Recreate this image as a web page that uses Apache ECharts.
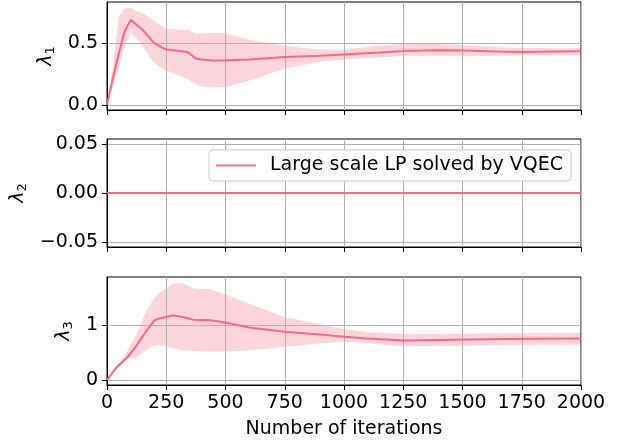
<!DOCTYPE html>
<html>
<head>
<meta charset="utf-8">
<script src="https://cdn.jsdelivr.net/npm/echarts@6/dist/echarts.min.js"></script>
<style>
  html, body { margin: 0; padding: 0; background: #fff; }
  #chart { width: 626px; height: 443px; }
</style>
</head>
<body>
<div id="chart"></div>
<script>
// 数据
var seriesName = 'Large scale LP solved by VQEC';

var iters1 = [0, 25, 50, 75, 100, 125, 150, 200, 250, 300, 340, 375, 400, 450, 500, 600, 750, 900, 1000, 1150, 1250, 1400, 1500, 1650, 1750, 1900, 2000];
var mean1  = [0, 0.22, 0.42, 0.60, 0.69, 0.65, 0.61, 0.50, 0.45, 0.44, 0.43, 0.378, 0.37, 0.362, 0.364, 0.37, 0.39, 0.40, 0.41, 0.425, 0.437, 0.445, 0.443, 0.433, 0.43, 0.433, 0.435];
var upper1 = [0, 0.30, 0.72, 0.78, 0.79, 0.76, 0.745, 0.68, 0.62, 0.61, 0.61, 0.58, 0.58, 0.585, 0.58, 0.53, 0.48, 0.45, 0.45, 0.48, 0.494, 0.495, 0.487, 0.47, 0.462, 0.46, 0.46];
var lower1 = [0, 0.15, 0.30, 0.48, 0.59, 0.54, 0.48, 0.34, 0.28, 0.245, 0.21, 0.17, 0.15, 0.142, 0.147, 0.20, 0.296, 0.35, 0.37, 0.385, 0.40, 0.398, 0.395, 0.40, 0.403, 0.405, 0.405];
var yTicks1 = [0, 0.5];

var iters2 = [0, 2000];
var mean2  = [0, 0];
var yTicks2 = [-0.05, 0, 0.05];

var iters3 = [0, 40, 85, 125, 165, 200, 225, 250, 280, 320, 365, 435, 500, 600, 750, 900, 1000, 1100, 1250, 1400, 1600, 1800, 2000];
var mean3  = [0, 0.23, 0.41, 0.63, 0.89, 1.09, 1.13, 1.15, 1.18, 1.15, 1.10, 1.09, 1.05, 0.96, 0.88, 0.83, 0.79, 0.76, 0.72, 0.73, 0.745, 0.755, 0.76];
var upper3 = [0, 0.25, 0.52, 0.85, 1.25, 1.50, 1.60, 1.67, 1.76, 1.76, 1.67, 1.65, 1.56, 1.39, 1.15, 1.02, 0.93, 0.87, 0.84, 0.84, 0.85, 0.86, 0.865];
var lower3 = [0, 0.20, 0.38, 0.42, 0.55, 0.63, 0.64, 0.62, 0.58, 0.545, 0.53, 0.52, 0.52, 0.545, 0.606, 0.67, 0.70, 0.67, 0.61, 0.62, 0.635, 0.645, 0.65];
var yTicks3 = [0, 1];

var lineColor = '#f46a85';
var bandColor = '#fbd4dc';
var font = 'DejaVu Sans';
var fs = 19;

function pairs(xs, ys) {
	return xs.map(function (x, i) { return [x, ys[i]]; });
}

function makeGrid(top) {
	return { left: 107, width: 474, top: top, height: 108, show: true, borderColor: '#000', borderWidth: 1, backgroundColor: 'transparent' };
}
function makeX(idx, showLabel) {
	var ax = {
		type: 'value', gridIndex: idx, min: 0, max: 2000, interval: 250,
		axisLine: { show: true, onZero: false, lineStyle: { color: '#000', width: 1 } },
		axisTick: { show: true, length: 5, inside: false, lineStyle: { color: '#000' } },
		axisLabel: { show: showLabel, color: '#000', fontSize: fs, fontFamily: font, margin: 9,
		             formatter: function (v) { return String(v); } },
		splitLine: { show: true, lineStyle: { color: '#b0b0b0', width: 1 } }
	};
	if (showLabel) {
		ax.name = 'Number of iterations';
		ax.nameLocation = 'middle';
		ax.nameGap = 35;
		ax.nameTextStyle = { color: '#000', fontSize: fs, fontFamily: font };
	}
	return ax;
}
function makeY(idx, min, max, ticks, sub, gap, fmt) {
	return {
		type: 'value', gridIndex: idx, min: min, max: max,
		name: '{a|λ}{b|' + sub + '}', nameLocation: 'middle', nameGap: gap, nameRotate: 90,
		nameTextStyle: {
			color: '#000', fontFamily: font,
			rich: {
				a: { fontSize: fs, fontStyle: 'italic', fontFamily: font, color: '#000' },
				b: { fontSize: 13, fontFamily: font, color: '#000', padding: [9, 0, 0, 0] }
			}
		},
		axisLine: { show: true, onZero: false, lineStyle: { color: '#000', width: 1 } },
		axisTick: { show: true, length: 5, customValues: ticks, lineStyle: { color: '#000' } },
		axisLabel: { color: '#000', fontSize: fs, fontFamily: font, margin: 9, customValues: ticks, formatter: fmt },
		splitLine: { show: true, lineStyle: { color: '#b0b0b0', width: 1 } }
	};
}
// 阴影带：上下边界围成的多边形
function bandSeries(idx, xs, up, lo) {
	return {
		type: 'custom', xAxisIndex: idx, yAxisIndex: idx, silent: true, clip: true, z: -1,
		data: xs.map(function (x, i) { return [x, lo[i], up[i]]; }),
		encode: { x: 0, y: [1, 2] },
		renderItem: function (params, api) {
			if (params.dataIndex !== 0) return null;
			var pts = [];
			for (var i = 0; i < xs.length; i++) pts.push(api.coord([xs[i], up[i]]));
			for (var j = xs.length - 1; j >= 0; j--) pts.push(api.coord([xs[j], lo[j]]));
			return { type: 'polygon', shape: { points: pts }, style: { fill: bandColor } };
		}
	};
}
function meanSeries(idx, xs, ys) {
	return { name: seriesName, type: 'line', xAxisIndex: idx, yAxisIndex: idx, symbol: 'none',
	         lineStyle: { color: lineColor, width: 2 }, itemStyle: { color: lineColor }, data: pairs(xs, ys), z: 3 };
}

var chart = echarts.init(document.getElementById('chart'), null, { renderer: 'canvas' });
var option = {
	animation: false,
	backgroundColor: '#fff',
	grid: [makeGrid(2), makeGrid(139), makeGrid(277)],
	xAxis: [makeX(0, false), makeX(1, false), makeX(2, true)],
	yAxis: [
		makeY(0, -0.04, 0.835, yTicks1, '1', 50, function (v) { return v.toFixed(1); }),
		makeY(1, -0.055, 0.055, yTicks2, '2', 70, function (v) { return (v < 0 ? '\u2212' : '') + Math.abs(v).toFixed(2); }),
		makeY(2, -0.09, 1.88, yTicks3, '3', 26, function (v) { return String(v); })
	],
	legend: {
		data: [seriesName],
		right: 55, top: 150,
		icon: 'rect',
		backgroundColor: '#fff', borderColor: '#cccccc', borderWidth: 1, borderRadius: 4,
		padding: [6, 8, 6, 7],
		itemWidth: 40, itemHeight: 2,
		textStyle: { color: '#000', fontSize: fs, fontFamily: font, padding: [0, 0, 0, 9] }
	},
	series: [
		bandSeries(0, iters1, upper1, lower1),
		meanSeries(0, iters1, mean1),
		meanSeries(1, iters2, mean2),
		bandSeries(2, iters3, upper3, lower3),
		meanSeries(2, iters3, mean3)
	]
};
chart.setOption(option);
</script>
</body>
</html>
